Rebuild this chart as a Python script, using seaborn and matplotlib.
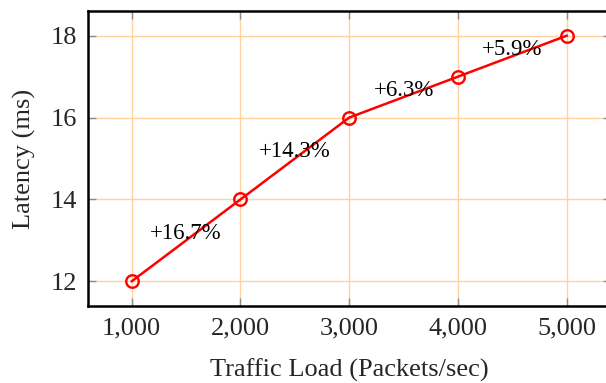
import matplotlib
matplotlib.use("Agg")
import matplotlib.pyplot as plt
import seaborn as sns
import pandas as pd
from decimal import Decimal, ROUND_HALF_UP

# Measured latency under increasing traffic load
traffic_load = [1000, 2000, 3000, 4000, 5000]
latency_ms = [12, 14, 16, 17, 18]

x_ticks = [1000, 2000, 3000, 4000, 5000]
x_tick_labels = ["1,000", "2,000", "3,000", "4,000", "5,000"]
y_ticks = [12, 14, 16, 18]

df = pd.DataFrame({"load": traffic_load, "latency": latency_ms})

sns.set_theme(style="white")
plt.rcParams["font.family"] = ["Liberation Serif", "DejaVu Serif"]

fig = plt.figure(figsize=(6.06, 3.83), dpi=100)
ax = fig.add_axes([88 / 606, 1 - 306 / 383, (610.6 - 88) / 606, 295 / 383])

sns.lineplot(data=df, x="load", y="latency", ax=ax, color="#ff0000",
             linewidth=1.8, marker="o", markersize=9,
             markerfacecolor="none", markeredgecolor="#ff0000",
             markeredgewidth=1.7, zorder=3)

# Relative increase between consecutive load levels, placed at segment midpoints
for i in range(1, len(traffic_load)):
    x0, x1 = traffic_load[i - 1], traffic_load[i]
    y0, y1 = latency_ms[i - 1], latency_ms[i]
    pct = (Decimal(y1) - Decimal(y0)) / Decimal(y0) * 100
    pct = pct.quantize(Decimal("0.1"), rounding=ROUND_HALF_UP)
    ax.annotate(f"+{pct}%", xy=((x0 + x1) / 2, (y0 + y1) / 2),
                xytext=(0, 5), textcoords="offset points",
                ha="center", va="center", fontsize=16.5, color="black",
                zorder=4)

ax.set_xlim(600, 5400)
ax.set_ylim(11.4, 18.6)
ax.set_xticks(x_ticks)
ax.set_xticklabels(x_tick_labels)
ax.set_yticks(y_ticks)

ax.grid(True, color="#ffd2a0", linewidth=1.0, zorder=0)
ax.set_axisbelow(True)

ax.tick_params(axis="both", which="major", direction="in", length=6,
               width=1.0, color="#8c8c8c", labelsize=19, pad=8,
               top=True, right=True, bottom=True, left=True)

for side in ["left", "right", "top", "bottom"]:
    ax.spines[side].set_color("black")
    ax.spines[side].set_linewidth(1.8)

ax.set_xlabel("Traffic Load (Packets/sec)", fontsize=19, labelpad=14)
ax.set_ylabel("Latency (ms)", fontsize=19, labelpad=10)

fig.savefig("out.png", dpi=100)
